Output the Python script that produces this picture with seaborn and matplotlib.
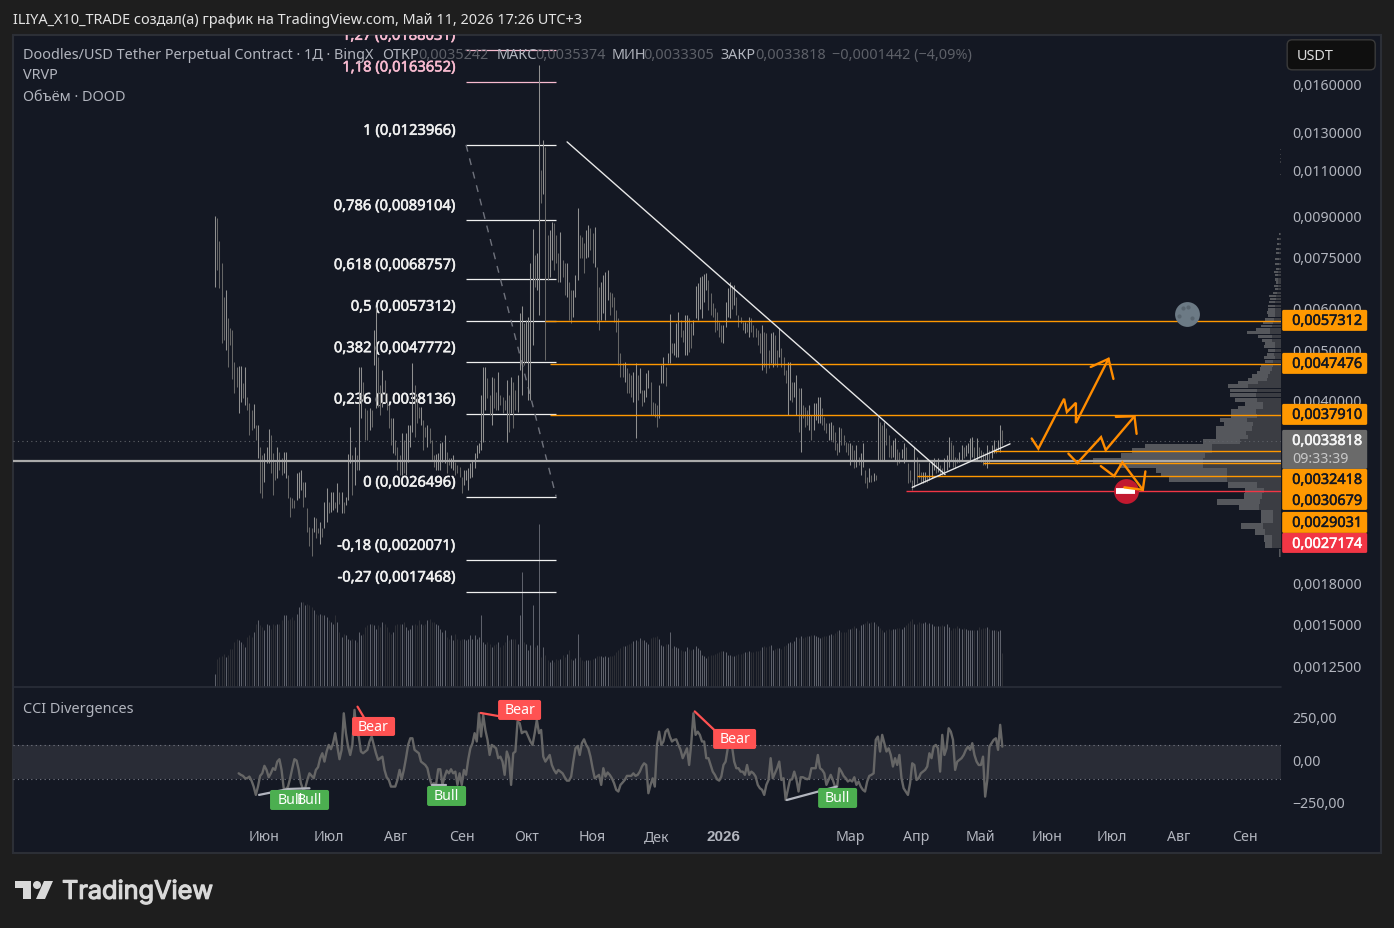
import numpy as np
import pandas as pd
import matplotlib
matplotlib.use("Agg")
import matplotlib.pyplot as plt
import matplotlib.patheffects as pe
from matplotlib.transforms import ScaledTranslation
import seaborn as sns
from matplotlib.patches import Rectangle, FancyBboxPatch, Polygon, Circle

# =========================
# DATA  (prices in units of 0.0001, day 0 = 2025-05-09)
# =========================
start_date = pd.Timestamp("2025-05-09")

high = [
    90.7,90.0,81.3,73.8,63.6,65.6,58.0,55.5,55.0,47.8,
    46.8,47.0,47.0,43.6,46.8,41.0,40.0,38.8,39.8,36.3,
    36.3,32.9,31.8,32.1,32.9,35.6,34.7,32.1,30.8,32.9,
    32.2,31.4,32.2,32.2,29.1,26.4,26.3,26.1,29.4,29.5,
    29.8,28.2,28.2,25.2,23.2,23.1,24.2,24.1,23.1,23.7,
    23.1,25.9,27.5,25.9,27.0,27.0,25.9,28.1,27.0,27.0,
    25.9,26.4,32.0,36.0,31.8,32.9,31.8,46.8,46.8,43.8,
    39.1,38.8,39.1,38.8,55.0,60.9,48.9,43.3,46.2,44.2,
    41.8,39.6,37.4,37.4,34.0,32.9,31.8,35.0,34.0,35.0,
    36.3,36.3,47.6,43.3,41.0,39.3,39.3,37.1,36.0,36.3,
    35.8,34.0,31.8,32.0,32.1,33.5,33.7,34.7,32.2,31.4,
    31.4,31.8,30.8,30.4,30.2,28.9,29.8,29.8,30.0,30.7,
    31.1,32.1,33.2,33.5,41.4,46.8,46.8,44.6,41.4,44.8,
    44.6,42.0,45.8,41.4,41.0,40.5,44.2,41.4,44.8,43.8,
    42.3,45.2,59.3,61.2,56.8,57.5,58.3,73.8,85.7,76.4,
    77.1,176.1,111.0,126.7,123.0,83.4,85.3,88.3,88.0,83.4,
    77.1,84.5,74.8,73.8,73.8,67.9,65.6,65.6,70.0,94.0,
    83.4,82.7,80.6,85.3,87.2,86.0,84.1,86.4,72.6,66.4,
    67.9,70.0,71.0,71.6,65.0,64.7,63.6,60.1,58.0,49.7,
    47.6,47.8,46.6,45.6,45.2,45.8,47.6,45.2,46.6,42.3,
    42.3,45.6,46.2,43.8,40.1,40.0,39.6,43.3,47.2,48.9,
    46.8,49.7,59.1,52.0,52.0,56.8,59.6,57.5,55.0,58.8,
    58.8,58.0,56.8,57.5,66.7,67.6,69.4,69.7,70.3,70.6,
    68.5,64.7,61.9,60.7,59.6,57.0,56.3,56.3,62.2,66.1,
    67.9,67.0,67.0,63.6,58.8,58.3,57.0,57.0,56.8,58.3,
    58.0,56.3,55.5,55.0,54.3,56.3,54.5,54.3,50.4,54.3,
    54.5,53.9,50.4,55.5,50.9,48.9,46.2,47.8,47.8,43.8,
    43.8,45.2,42.7,42.7,39.6,39.3,38.8,39.6,37.9,40.0,
    40.0,41.0,41.0,39.1,37.6,36.6,36.6,36.7,36.3,35.2,
    33.5,36.0,35.8,34.7,33.7,33.5,33.5,33.2,32.5,33.2,
    31.5,32.1,33.5,29.8,28.9,30.0,29.1,29.4,29.1,37.6,
    36.7,36.3,36.7,35.8,34.7,33.2,34.0,34.2,32.7,32.2,
    32.7,33.5,32.9,30.7,29.8,28.5,32.9,31.5,30.7,29.5,
    29.5,29.5,29.1,30.8,31.1,31.4,30.8,31.4,30.4,30.0,
    31.4,31.8,34.4,33.7,33.2,31.5,31.4,32.2,33.2,32.9,
    33.2,33.5,34.2,34.4,32.9,34.2,32.9,32.5,32.2,32.1,
    33.2,32.5,33.2,34.0,32.9,34.0,36.3,35.5,
]

low = [
    66.4,71.6,66.1,52.0,52.7,50.4,46.8,51.6,44.4,41.8,
    42.9,38.3,40.1,40.8,39.6,38.8,34.7,35.5,35.8,34.0,
    31.4,26.9,26.3,28.2,30.7,30.7,29.4,26.7,28.5,28.7,
    29.8,29.1,29.4,28.7,26.3,24.2,25.2,25.2,26.1,26.3,
    27.3,25.3,26.4,22.7,21.3,20.4,22.7,22.1,22.6,21.5,
    22.2,23.1,23.7,24.7,24.8,25.0,25.2,24.8,25.7,24.7,
    24.7,25.5,26.1,30.7,26.7,27.9,29.8,29.8,37.4,40.5,
    34.0,34.0,35.5,36.0,47.2,39.1,39.3,37.9,39.3,40.1,
    38.8,35.8,33.2,32.1,31.8,29.8,29.1,29.1,29.4,29.1,
    30.8,32.9,35.2,34.4,36.6,37.4,36.3,32.5,34.4,32.9,
    33.5,31.1,30.2,29.8,29.8,29.8,30.8,30.7,29.4,30.4,
    30.0,29.8,29.1,29.4,28.9,26.9,27.9,28.5,27.3,28.7,
    28.9,30.0,31.4,32.1,32.5,33.7,38.8,40.8,37.9,36.3,
    39.1,38.8,38.8,39.6,38.3,38.8,33.7,35.2,38.3,35.8,
    38.8,38.4,46.2,41.4,47.2,47.8,40.5,40.5,51.6,66.4,
    65.6,58.8,96.0,100.1,48.3,68.5,69.4,74.8,71.6,73.8,
    67.9,67.9,69.4,64.2,63.6,57.5,56.8,58.3,63.6,68.5,
    75.4,75.4,70.6,75.4,75.7,78.1,73.8,72.6,56.8,55.0,
    57.5,59.3,57.5,62.8,58.8,60.9,57.0,54.5,47.2,44.8,
    44.8,43.8,41.8,41.8,41.0,40.1,34.2,40.5,41.8,39.5,
    40.1,41.0,42.7,37.9,37.9,37.6,36.0,37.4,43.6,43.6,
    43.1,47.6,47.6,49.7,49.3,48.9,48.9,53.4,52.2,49.3,
    49.3,50.0,50.9,53.9,58.0,57.5,60.4,58.0,62.2,65.6,
    60.1,58.8,58.3,54.5,55.0,53.4,52.2,52.0,55.8,58.3,
    58.0,60.4,61.4,58.8,55.8,56.8,55.0,54.3,54.5,53.4,
    54.5,53.4,53.4,51.6,49.7,46.2,46.8,45.6,46.6,47.6,
    46.8,47.2,46.8,48.9,46.8,45.2,43.6,37.9,40.5,40.1,
    41.0,37.9,35.2,32.2,37.4,36.0,36.3,35.5,34.0,35.5,
    37.1,36.6,36.6,36.3,35.5,35.0,34.0,34.0,33.7,32.5,
    31.8,32.2,33.2,33.2,32.2,31.8,30.4,31.1,30.0,30.2,
    30.4,29.1,30.2,28.1,27.5,28.2,28.2,28.4,28.5,31.1,
    31.1,31.1,31.1,33.2,31.5,31.4,31.5,31.1,30.4,30.7,
    31.4,30.7,31.1,28.1,28.2,27.3,27.6,28.1,28.7,28.1,
    28.1,28.2,28.2,28.5,28.7,29.8,29.4,29.5,29.1,29.1,
    29.5,29.8,30.2,31.1,30.2,30.0,30.7,30.8,31.1,31.4,
    31.6,32.1,31.1,31.5,31.1,31.1,31.4,30.8,30.5,30.4,
    30.0,30.7,31.4,32.1,32.1,32.5,32.2,33.2,
]

volume = [
    13,28,30,31,33,30,32,38,38,45, 48,47,45,43,40,50,52,50,55,63,
    67,62,60,57,63,62,58,63,62,63, 63,67,72,72,67,68,70,67,73,80,
    85,85,82,83,82,80,77,73,72,73, 72,72,70,67,65,63,72,65,55,50,
    53,52,48,47,48,47,45,55,52,53, 60,62,63,63,62,58,62,60,65,63,
    60,55,53,55,62,63,63,63,65,60, 57,58,62,63,62,67,63,62,63,67,
    68,65,65,63,62,58,55,57,50,48, 52,47,53,48,47,48,48,47,48,52,
    48,52,48,50,72,45,43,45,43,40, 42,43,45,40,42,45,52,47,48,48,
    48,43,72,115,45,43,37,42,82,40, 42,163,30,40,32,27,25,27,25,28,
    27,28,32,30,33,37,28,27,29,53, 30,27,26,27,27,
    27,28,29,31,31,31,30,31,30,31, 31,32,35,37,39,41,41,42,43,44,
    46,47,46,49,47,47,45,43,49,50, 50,51,48,42,41,43,43,55,39,41,
    40,39,37,36,36,40,38,37,38,41, 39,37,32,31,29,31,32,32,33,34,
    35,36,36,35,32,32,31,31,32,33, 33,34,35,35,36,35,35,36,36,37,
    40,41,40,41,42,37,38,39,39,38, 41,42,44,45,44,46,50,49,51,49,
    50,51,51,52,52,51,50,49,50,51, 51,52,53,52,54,56,57,55,55,55,
    58,58,59,61,59,57,62,63,64,66, 64,65,65,63,61,59,57,55,57,58,
    57,58,58,59,59,58,60,62,64,66, 68,63,63,65,64,64,65,63,64,63,
    61,61,61,61,62,61,63,60,57,59, 59,61,59,58,59,58,57,57,57,57,
    57,60,58,59,59,60,58,57,57,57, 56,57,34,
]

cci = [
    -67,-76,-82,-96,-96,-86,-110,-145,-194,-145,
    -82,-67,-23,-47,-90,-67,-37,-47,2,16,
    -47,-155,-161,-145,-96,-37,16,8,-47,-125,
    -161,-155,-106,-67,-82,-96,-47,-31,22,51,
    2,61,100,75,110,169,90,16,71,286,
    169,90,41,100,306,169,149,61,51,61,
    71,120,149,100,51,12,22,31,-47,-90,
    -106,-145,-145,-145,-106,-47,-102,-47,22,100,
    139,139,71,61,51,2,-8,-18,-37,-96,
    -135,-125,-135,-43,-43,-135,-86,-51,-67,-43,
    -67,-57,-135,-67,-135,-47,-76,12,80,110,
    169,120,286,149,276,188,130,41,100,90,
    80,22,31,2,-76,61,22,-135,51,61,
    237,228,169,178,178,149,120,100,169,247,
    169,188,31,2,22,41,-18,-47,-67,-47,
    -57,-67,-90,-110,-110,-86,2,80,94,41,
    110,133,100,80,31,-37,-96,-86,-76,-135,
    -37,-86,-62,-76,-96,-125,-164,
    -174,-135,-121,-106,-82,-82,-82,-67,-82,-76,
    -57,-27,-8,-18,-184,-135,-96,-145,100,178,
    100,120,178,192,149,120,130,133,100,71,
    22,51,80,-18,110,286,159,178,159,120,
    120,22,22,-18,-57,-76,-102,-110,-86,-18,
    2,80,90,90,2,-37,-37,-57,-57,-76,
    -18,-76,-57,-67,-86,-135,-155,-164,-194,-135,
    -106,22,-96,-67,-37,2,-106,-96,-223,-164,
    -106,-102,-57,-102,-174,-90,-90,-96,-102,-96,
    -37,-37,-37,41,-37,-47,-67,-135,-106,-76,
    -106,-145,-145,-37,-57,-82,-96,-115,-106,-115,
    -90,-135,-115,-145,-164,-174,-115,-82,-76,-67,
    130,149,61,159,110,61,80,41,-27,22,
    -18,41,-96,-155,-174,-194,-125,-8,-18,-106,
    -96,-67,-57,-47,-27,51,22,90,100,80,
    -57,159,41,80,198,178,130,-47,2,12,
    22,41,71,90,71,110,41,2,-18,-18,
    31,-204,-106,90,110,130,139,71,218,90,
]

# visible range profile: price row, total volume, dark (right hand) part
vp_price = [
    20.7,21.5,22.1,22.7,23.3,24.0,24.7,25.3,25.9,26.6,27.3,27.9,28.6,29.2,29.8,30.4,31.1,31.8,32.4,33.1,
    33.7,34.4,35.0,35.7,36.4,37.1,37.8,38.5,39.0,39.7,40.5,41.4,42.2,43.0,43.7,44.3,45.0,45.7,46.4,47.1,
    47.9,48.8,49.5,50.3,51.1,51.8,52.5,53.5,54.4,55.2,56.0,56.9,57.7,58.6,59.4,60.3,61.2,62.2,63.1,63.9,
    64.8,65.8,66.8,67.8,68.7,70.0,71.0,72.0,73.6,75.2,77.0,78.6,80.4,82.1,84.0,108.8,115.0,116.9,119.0,121.3,
]
vp_total = [
    2,16,17,26,40,20,20,42,64,37,36,53,112,120,125,162,188,160,149,136,
    78,65,65,65,57,61,50,50,43,36,46,51,51,53,43,33,29,24,21,20,
    16,17,14,13,17,16,19,23,34,25,20,18,16,13,14,13,13,12,11,12,
    8,6,7,5,6,6,7,5,6,6,5,5,4,4,2,1,1,1,1,1,
]
vp_dark = [
    1,9,9,16,18,8,8,22,21,19,17,24,54,54,54,78,78,76,69,69,
    41,33,35,29,28,34,24,25,18,18,24,25,24,33,23,14,13,11,9,8,
    8,6,7,6,6,6,9,9,11,11,9,8,7,6,6,6,6,6,5,5,
    4,3,3,3,3,3,3,2,2,2,2,2,2,2,1,1,1,1,1,1,
]

# fibonacci tool
fib_levels = ["1,27", "1,18", "1", "0,786", "0,618", "0,5", "0,382", "0,236", "0", "-0,18", "-0,27"]
fib_prices = [188.031, 163.652, 123.966, 89.104, 68.757, 57.312, 47.772, 38.136, 26.496, 20.071, 17.468]
fib_colors = ["#f8bbd0", "#f8bbd0"] + ["#f0f0f0"] * 9

# horizontal levels: price, first day, colour
level_prices = [57.312, 47.476, 37.910, 32.418, 30.679, 29.031, 27.174]
level_days = [154, 156, 156, 362, 358, 327, 322]
level_colors = ["#ff9800"] * 6 + ["#f23645"]
level_text = ["0,0057312", "0,0047476", "0,0037910", "0,0032418", "0,0030679", "0,0029031", "0,0027174"]
tag_centers = [320, 363, 414, 479, 500, 522, 543]

pivot_price = 31.05
last_price = 33.818

# trend lines (day, price)
fall_x, fall_y = [164.1, 340.3], [125.6, 29.2]
rise_x, rise_y = [325, 370.6], [27.6, 33.4]
fib_diag_x, fib_diag_y = [117, 159], [123.966, 26.496]

# projected orange paths (day, price)
wave_a_x = [380.7, 383.8, 395.8, 397.1, 401.3, 401.3, 416.5]
wave_a_y = [34.2, 32.7, 40.7, 38.4, 40.0, 36.6, 48.5]
head_a_x, head_a_y = [408.2, 416.5, 418.8], [46.8, 48.5, 44.4]
wave_b_x = [397.8, 402.0, 413.0, 415.2, 428.6]
wave_b_y = [32.0, 30.7, 34.4, 32.5, 37.7]
head_b_x, head_b_y = [419.9, 428.6, 429.6], [37.6, 37.7, 34.9]
wave_c_x = [412.9, 419.1, 423.0, 432.5]
wave_c_y = [30.3, 29.0, 30.8, 27.3]
head_c_x, head_c_y = [423.9, 432.5, 433.7], [27.6, 27.3, 29.6]

# divergences on the oscillator (day, value)
bear_lines = [([66.4, 73.7], [325, 171]), ([123.8, 142.4], [288, 247]), ([223.6, 240.9], [297, 90])]
bull_lines = [([20.5, 34.2], [-194, -159]), ([34.2, 44.0], [-159, -155]),
              ([101.2, 107.7], [-135, -135]), ([266.5, 289.8], [-224, -145])]

price_ticks = [160, 130, 110, 90, 75, 60, 50, 40, 18, 15, 12.5]
month_names = ["Июн", "Июл", "Авг", "Сен", "Окт", "Ноя", "Дек", "2026", "Мар", "Апр", "Май", "Июн", "Июл", "Авг", "Сен"]
month_dates = ["2025-06-01", "2025-07-01", "2025-08-01", "2025-09-01", "2025-10-01", "2025-11-01", "2025-12-01",
               "2026-01-01", "2026-03-01", "2026-04-01", "2026-05-01", "2026-06-01", "2026-07-01", "2026-08-01",
               "2026-09-01"]
cci_ticks = [250, 0, -250]
cci_tick_labels = ["250,00", "0,00", "−250,00"]

# =========================
# STYLE
# =========================
OUTER = "#1e1e1e"
PANE = "#141823"
BORDER = "#2c2f36"
TXT = "#b2b5be"
DIM = "#5d6068"
ORANGE = "#ff9800"
FS = 10.4

sns.set_theme(style="dark", rc={
    "axes.facecolor": "none",
    "figure.facecolor": OUTER,
    "axes.grid": False,
    "axes.edgecolor": "none",
    "xtick.color": TXT,
    "ytick.color": TXT,
})
plt.rcParams["font.family"] = ["Noto Sans", "DejaVu Sans"]
plt.rcParams["font.size"] = 10

W, H = 1394, 928
fig = plt.figure(figsize=((W + 0.2) / 100, (H + 0.2) / 100), dpi=100, facecolor=OUTER)


def px_rect(left, top, right, bottom):
    return [left / W, 1 - bottom / H, (right - left) / W, (bottom - top) / H]


def heavy(width, color):
    # Noto Sans has no medium cut here, so thicken with a thin stroke
    return [pe.withStroke(linewidth=width, foreground=color)]


# pane background sits behind all axes
fig.add_artist(Rectangle((13 / W, 1 - 853 / H), 1368 / W, 818 / H, transform=fig.transFigure,
                         facecolor=PANE, edgecolor=BORDER, linewidth=1.5, zorder=-5))

PRICE_RECT = px_rect(13, 35, 1281, 687)
XLIM = (-94.2, 497)
YLIM = (11.5e-4, 200.9e-4)
E4 = 1e-4

high = np.array(high) * E4
low = np.array(low) * E4
days = np.arange(len(high))

# =========================
# VOLUME + VISIBLE RANGE
# =========================
ax_vol = fig.add_axes(PRICE_RECT, zorder=1)
vol_colors = ["#5e616b" if i == 0 or high[i] >= high[i - 1] else "#2c2e35" for i in range(len(volume))]
ax_vol.vlines(np.arange(len(volume)), 0, volume, colors=vol_colors, linewidth=0.72)
ax_vol.set_xlim(*XLIM)
ax_vol.set_ylim(0, 652)
ax_vol.axis("off")

ax_vp = fig.add_axes(PRICE_RECT, zorder=1)
vp_y = np.array(vp_price) * E4
ax_vp.barh(vp_y, vp_total, height=0.7 * E4, color="#55575c", linewidth=0)
ax_vp.barh(vp_y, vp_dark, height=0.7 * E4, color="#3b3d43", linewidth=0)
ax_vp.set_yscale("log")
ax_vp.set_ylim(*YLIM)
ax_vp.set_xlim(1268, 0)
ax_vp.axis("off")

# =========================
# PRICE PANE
# =========================
ax = fig.add_axes(PRICE_RECT, zorder=2)
ax.set_yscale("log")
ax.set_xlim(*XLIM)
ax.set_ylim(*YLIM)

# fib tool under the candles
fib_y = np.array(fib_prices) * E4
ax.hlines(fib_y, 117, 159, colors=fib_colors, linewidth=0.9, zorder=2)
for lev, p, c in zip(fib_levels, fib_prices, fib_colors):
    label = f"{lev} (0,{int(round(p * 1000)):07d})"
    ax.annotate(label, xy=(117, p * E4), xytext=(-7.2, 9.8), textcoords="offset points",
                ha="right", va="center", color=c, fontsize=10.6, annotation_clip=False,
                clip_on=True, zorder=2, path_effects=heavy(0.4, c))
ax.plot(fib_diag_x, np.array(fib_diag_y) * E4, color="#6f727c", linewidth=1, linestyle=(0, (5, 5)), zorder=2)

# level lines
for p, d, c in zip(level_prices, level_days, level_colors):
    ax.hlines(p * E4, d, XLIM[1], colors=c, linewidth=1.0, zorder=4)
ax.hlines(pivot_price * E4, XLIM[0], XLIM[1], colors="#aaaaaa", linewidth=1.6, zorder=4)
ax.hlines(last_price * E4, XLIM[0], XLIM[1], colors="#5f6268", linewidth=0.8, linestyles=(0, (1, 3)), zorder=1)

# candles, drawn as thin high/low wicks
bar_colors = ["#909090" if i == 0 or high[i] >= high[i - 1] else "#666666" for i in days]
ax.vlines(days, low, high, colors=bar_colors, linewidth=0.75, zorder=3)

# trend lines
ax.plot(fall_x, np.array(fall_y) * E4, color="#e8e8e8", linewidth=1.0, zorder=5)
ax.plot(rise_x, np.array(rise_y) * E4, color="#e8e8e8", linewidth=1.0, zorder=5)

# no entry sign and moon
stop_day, stop_price = 424.5, 27.2
moon_day, moon_price = 453, 59.1
ax.scatter([stop_day], [stop_price * E4], s=320, color="#c2192f", linewidth=0, zorder=6)
ax.plot([420.2, 428.8], [stop_price * E4] * 2, color="white", linewidth=4.2, solid_capstyle="butt", zorder=6)
ax.scatter([moon_day], [moon_price * E4], s=320, color="#6c7a85", linewidth=0, zorder=6)
ax.scatter([451, 455.5, 453.5, 449.5], np.array([60.5, 58.0, 61.0, 58.4]) * E4, s=9, color="#59656f",
           linewidth=0, zorder=6)

# orange paths
for xs, ys in [(wave_a_x, wave_a_y), (head_a_x, head_a_y), (wave_b_x, wave_b_y), (head_b_x, head_b_y),
               (wave_c_x, wave_c_y), (head_c_x, head_c_y)]:
    ax.plot(xs, np.array(ys) * E4, color="#ff8c00", linewidth=1.7, solid_joinstyle="miter", zorder=7)

ax.yaxis.tick_right()
ax.set_yticks(np.array(price_ticks) * E4)
ax.set_yticklabels([f"0,{int(round(t * 1000)):07d}" for t in price_ticks], fontsize=10.2, color=TXT)
ax.minorticks_off()
ax.tick_params(axis="y", length=0, pad=8)
ax.tick_params(axis="x", length=0, labelbottom=False)

# =========================
# CCI PANE
# =========================
ax_cci = fig.add_axes(px_rect(13, 688, 1281, 823), zorder=2)
ax_cci.set_xlim(*XLIM)
ax_cci.set_ylim(-359, 435)
ax_cci.axhspan(-100, 100, color="#292c36", linewidth=0, zorder=0)
ax_cci.hlines([-100, 100], XLIM[0], XLIM[1], colors="#787b86", linewidth=0.8, linestyles=(0, (1, 3)), zorder=1)

cci_df = pd.DataFrame({"day": np.arange(len(cci)) + len(high) - len(cci), "cci": cci})
sns.lineplot(data=cci_df, x="day", y="cci", color="#666666", linewidth=1.7, ax=ax_cci, zorder=3)
for xs, ys in bear_lines:
    ax_cci.plot(xs, ys, color="#ff5252", linewidth=1.6, zorder=4)
for xs, ys in bull_lines:
    ax_cci.plot(xs, ys, color="#b2b5be", linewidth=1.6, zorder=4)

ax_cci.set_xlabel("")
ax_cci.set_ylabel("")
ax_cci.yaxis.tick_right()
ax_cci.set_yticks(cci_ticks)
ax_cci.set_yticklabels(cci_tick_labels, fontsize=10.2, color=TXT)
month_days = (pd.to_datetime(month_dates) - start_date).days
ax_cci.set_xticks(month_days)
ax_cci.set_xticklabels(month_names, fontsize=10.2, color=TXT)
ax_cci.tick_params(axis="y", length=0, pad=8)
ax_cci.tick_params(axis="x", length=0, pad=5)
for lab in ax_cci.get_xticklabels():
    if lab.get_text() == "2026":
        lab.set_fontfamily("Liberation Sans")
        lab.set_fontweight("bold")
        lab.set_fontsize(11)

# tick labels sit 2 px higher than the marks they name
lift = ScaledTranslation(0, 2 / 100, fig.dpi_scale_trans)
for axis_ax in (ax, ax_cci):
    for lab in axis_ax.get_yticklabels():
        lab.set_transform(lab.get_transform() + lift)

# =========================
# OVERLAY: legend texts, price tags, logo
# =========================
ov = fig.add_axes([0, 0, 1, 1], zorder=5)
ov.set_xlim(0, W)
ov.set_ylim(H, 0)
ov.axis("off")

ov.plot([13, 1281], [687.5, 687.5], color="#2a2e39", linewidth=1.2)
ov.text(13, 20.5, "ILIYA_X10_TRADE создал(а) график на TradingView.com, Май 11, 2026 17:26 UTC+3",
        color="#e3e3e3", fontsize=FS, va="center")

header = [(23, "Doodles/USD Tether Perpetual Contract · 1Д · BingX", TXT), (382, "ОТКР", TXT), (418, "0,0035242", DIM),
          (497, "МАКС", TXT), (535, "0,0035374", DIM), (612, "МИН", TXT), (643, "0,0033305", DIM),
          (720, "ЗАКР", TXT), (755, "0,0033818", DIM), (832, "−0,0001442 (−4,09%)", DIM)]
for x, s, c in header:
    ov.text(x, 55.5, s, color=c, fontsize=FS, va="center")
ov.text(23, 75.5, "VRVP", color=TXT, fontsize=FS, va="center")
ov.text(23, 97, "Объём · DOOD", color=TXT, fontsize=FS, va="center")
ov.text(23, 709.5, "CCI Divergences", color=TXT, fontsize=FS, va="center")

# USDT button
ov.add_patch(FancyBboxPatch((1287, 40), 88, 30, boxstyle="round,pad=0,rounding_size=5", facecolor="#0f0f0f",
                            edgecolor="#3a3a3a", linewidth=1))
ov.text(1297, 56, "USDT", color="#dbdbdb", fontsize=FS, va="center")


def price_tag(top, bottom, bg):
    ov.add_patch(FancyBboxPatch((1282, top), 85, bottom - top, boxstyle="round,pad=0,rounding_size=1.5",
                                facecolor=bg, edgecolor="none"))


price_tag(310, 331, ORANGE)
price_tag(353, 374, ORANGE)
price_tag(404, 425, ORANGE)
price_tag(430, 469, "#6a6a6a")
price_tag(469, 510, ORANGE)
price_tag(512, 533, ORANGE)
price_tag(533, 553, "#f23645")
for y, s, c in zip(tag_centers, level_text, level_colors):
    fg = "white" if c == "#f23645" else "#131722"
    ov.text(1292, y + 1.5, s, color=fg, fontsize=10.4, va="center", path_effects=heavy(0.35, fg))
ov.text(1292, 441.5, "0,0033818", color="#f5f5f5", fontsize=10.4, va="center", path_effects=heavy(0.45, "#f5f5f5"))
ov.text(1292, 459.5, "09:33:39", color="#c8c8c8", fontsize=10.2, va="center")


def pill(left, top, right, bottom, bg, text):
    ov.add_patch(FancyBboxPatch((left, top), right - left, bottom - top, boxstyle="round,pad=0,rounding_size=2",
                                facecolor=bg, edgecolor="none"))
    ov.text((left + right) / 2, (top + bottom) / 2 + 0.5, text, color="white", fontsize=10.2, ha="center", va="center")


pill(352, 717, 395, 736, "#ff5252", "Bear")
pill(498, 700, 541, 720, "#ff5252", "Bear")
pill(713, 729, 756, 749, "#ff5252", "Bear")
pill(270, 790, 310, 810, "#4caf50", "Bull")
pill(289, 790, 329, 810, "#4caf50", "Bull")
pill(427, 786, 466, 806, "#4caf50", "Bull")
pill(818, 788, 857, 808, "#4caf50", "Bull")

# logo
LOGO = "#d9d9d9"
ov.add_patch(Polygon([(15, 881), (31, 881), (31, 899), (23, 899), (23, 888), (15, 888)], color=LOGO, linewidth=0))
ov.add_patch(Circle((37, 885), 4, color=LOGO, linewidth=0))
ov.add_patch(Polygon([(44, 881), (53, 881), (45, 899), (36, 899)], color=LOGO, linewidth=0))
ov.text(62, 892, "TradingView", color=LOGO, fontsize=18.2, va="center", family="Inter",
        path_effects=heavy(0.9, LOGO))

fig.savefig("out.png", dpi=100, facecolor=OUTER)
